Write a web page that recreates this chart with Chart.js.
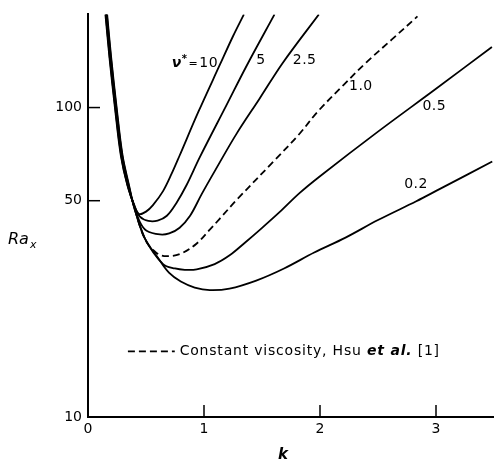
<!DOCTYPE html>
<html>
<head>
<meta charset="utf-8">
<script src="https://cdn.jsdelivr.net/npm/chart.js@4.4.1/dist/chart.umd.min.js"></script>
<style>
    html, body { margin: 0; padding: 0; background: #fff; }
    #wrap { width: 494px; height: 463px; }
</style>
</head>
<body>
<div id="wrap"><canvas id="chart" width="494" height="463"></canvas></div>
<script>
// wave number k and critical Rayleigh number Ra_x
const kNu10 = [0.150, 0.185, 0.232, 0.283, 0.340, 0.40, 0.44, 0.50, 0.56, 0.647, 0.72, 0.79, 0.95, 1.135, 1.25, 1.344];
const raNu10 = [200, 145, 100, 70, 56, 48.3, 45.3, 46.1, 48.4, 53.7, 61, 70, 96.6, 137, 170, 200];

const kNu5 = [0.153, 0.188, 0.235, 0.286, 0.342, 0.40, 0.45, 0.52, 0.60, 0.68, 0.76, 0.85, 0.963, 1.195, 1.37, 1.608];
const raNu5 = [200, 145, 100, 70, 56, 48, 44.3, 43, 43.1, 44.7, 49, 56.2, 69, 102, 137, 200];

const kNu25 = [0.156, 0.191, 0.238, 0.289, 0.345, 0.40, 0.45, 0.505, 0.62, 0.70, 0.79, 0.88, 0.98, 1.10, 1.28, 1.48, 1.68, 1.99];
const raNu25 = [200, 145, 100, 70, 56, 47.8, 42.5, 40, 38.9, 39.2, 40.9, 44.7, 52.5, 63, 82.2, 107, 139.6, 200];

const kNu1 = [0.159, 0.194, 0.241, 0.292, 0.348, 0.40, 0.49, 0.59, 0.676, 0.80, 0.935, 1.05, 1.135, 1.29, 1.6, 1.82, 1.98, 2.2, 2.4, 2.62, 2.84];
const raNu1 = [200, 145, 100, 70, 56, 47.6, 37.6, 33.9, 33.1, 33.7, 36.3, 40.3, 43.7, 50.7, 67, 82, 97, 118, 140, 166, 197];

const kNu05 = [0.162, 0.197, 0.244, 0.295, 0.351, 0.40, 0.49, 0.647, 0.75, 0.834, 0.937, 1.092, 1.221, 1.35, 1.496, 1.651, 1.823, 2.0, 2.5, 3.0, 3.482];
const raNu05 = [200, 145, 100, 70, 56, 47.4, 37.8, 31.2, 30.2, 29.9, 30, 31.2, 33.3, 36.5, 40.7, 45.9, 52.9, 60, 83.6, 115, 157];

const kNu02 = [0.165, 0.200, 0.247, 0.298, 0.354, 0.40, 0.49, 0.60, 0.70, 0.80, 0.92, 1.05, 1.22, 1.45, 1.69, 1.95, 2.22, 2.5, 2.83, 3.03, 3.485];
const raNu02 = [200, 145, 100, 70, 56, 47.2, 37.8, 32.8, 29.2, 27.4, 26.2, 25.7, 26.0, 27.6, 30.2, 34, 38, 43.3, 49.8, 54.5, 66.9];

const xTicks = [0, 1, 2, 3];
const yTicks = [10, 50, 100];

// curve labels, placed in data units
const curveLabels = [
    { text: "5", k: 1.45, ra: 142 },
    { text: "2.5", k: 1.765, ra: 142 },
    { text: "1.0", k: 2.25, ra: 116.7 },
    { text: "0.5", k: 2.883, ra: 100.7 },
    { text: "0.2", k: 2.726, ra: 56.6 }
];

const FONT = "'DejaVu Sans', sans-serif";

const toPoints = (ks, ras) => {
    const points = [];
    for (let i = 0; i < ks.length; i++) {
        points.push({ x: ks[i], y: ras[i] });
    }
    return points;
};

const makeSet = (label, ks, ras, dashed) => {
    return {
        label: label,
        data: toPoints(ks, ras),
        borderColor: "#000",
        borderWidth: 1.8,
        borderDash: dashed ? [7, 4] : [],
        pointRadius: 0,
        showLine: true,
        fill: false,
        tension: 0.35
    };
};

const extrasPlugin = {
    id: "extras",
    afterDatasetsDraw(chart) {
        const ctx = chart.ctx;
        const xs = chart.scales.x;
        const ys = chart.scales.y;
        const area = chart.chartArea;

        ctx.save();
        ctx.strokeStyle = "#000";
        ctx.fillStyle = "#000";
        ctx.lineWidth = 1.5;

        // inner tick marks
        for (let v of [50, 100]) {
            const y = ys.getPixelForValue(v);
            ctx.beginPath();
            ctx.moveTo(area.left, y);
            ctx.lineTo(area.left + 12, y);
            ctx.stroke();
        }
        for (let v of [1, 2, 3]) {
            const x = xs.getPixelForValue(v);
            ctx.beginPath();
            ctx.moveTo(x, area.bottom);
            ctx.lineTo(x, area.bottom - 12);
            ctx.stroke();
        }

        // curve labels
        ctx.textBaseline = "middle";
        ctx.textAlign = "left";
        ctx.letterSpacing = "0.5px";
        ctx.font = "14px " + FONT;
        for (let lab of curveLabels) {
            ctx.fillText(lab.text, xs.getPixelForValue(lab.k), ys.getPixelForValue(lab.ra));
        }

        // nu* = 10
        let px = xs.getPixelForValue(0.722);
        const py = ys.getPixelForValue(138.6);
        ctx.font = "italic bold 14px " + FONT;
        ctx.fillText("ν", px, py);
        px += ctx.measureText("ν").width;
        ctx.font = "bold 10px " + FONT;
        ctx.fillText("*", px, py - 4);
        px += ctx.measureText("*").width + 1;
        ctx.font = "11px " + FONT;
        ctx.fillText("=", px, py);
        px += ctx.measureText("=").width + 1;
        ctx.font = "14px " + FONT;
        ctx.fillText("10", px, py);

        // legend for the dashed curve
        const ly = ys.getPixelForValue(16.3);
        ctx.save();
        ctx.setLineDash([7, 4]);
        ctx.lineWidth = 1.8;
        ctx.beginPath();
        ctx.moveTo(xs.getPixelForValue(0.344), ly);
        ctx.lineTo(xs.getPixelForValue(0.748), ly);
        ctx.stroke();
        ctx.restore();

        ctx.letterSpacing = "0.8px";
        let tx = xs.getPixelForValue(0.79);
        ctx.font = "14px " + FONT;
        ctx.fillText("Constant viscosity, Hsu ", tx, ly);
        tx += ctx.measureText("Constant viscosity, Hsu ").width;
        ctx.font = "italic bold 14px " + FONT;
        ctx.fillText("et al.", tx, ly);
        tx += ctx.measureText("et al.").width;
        ctx.font = "14px " + FONT;
        ctx.fillText(" [1]", tx, ly);
        ctx.letterSpacing = "0px";

        // axis titles
        ctx.font = "italic 16px " + FONT;
        ctx.fillText("Ra", 8, 240);
        const raW = ctx.measureText("Ra").width;
        ctx.font = "italic 11px " + FONT;
        ctx.fillText("x", 8 + raW + 1, 245);

        ctx.font = "italic bold 15px " + FONT;
        ctx.textAlign = "center";
        ctx.fillText("k", xs.getPixelForValue(1.68), 455);

        ctx.restore();
    }
};

const tickFont = { family: FONT, size: 14 };

new Chart(document.querySelector("#chart"), {
    type: "scatter",
    data: {
        datasets: [
            makeSet("10", kNu10, raNu10, false),
            makeSet("5", kNu5, raNu5, false),
            makeSet("2.5", kNu25, raNu25, false),
            makeSet("1.0", kNu1, raNu1, true),
            makeSet("0.5", kNu05, raNu05, false),
            makeSet("0.2", kNu02, raNu02, false)
        ]
    },
    options: {
        responsive: false,
        animation: false,
        devicePixelRatio: 1,
        layout: { padding: { top: 12, right: 0, left: 0, bottom: 0 } },
        plugins: {
            legend: { display: false },
            tooltip: { enabled: false }
        },
        scales: {
            x: {
                type: "linear",
                min: 0,
                max: 3.5,
                afterBuildTicks: (scale) => {
                    scale.ticks = xTicks.map((v) => ({ value: v }));
                },
                afterFit: (scale) => {
                    scale.height = 46;
                },
                ticks: {
                    color: "#000",
                    font: tickFont,
                    padding: 4,
                    maxRotation: 0,
                    autoSkip: false,
                    callback: (v) => String(v)
                },
                grid: { display: false, drawTicks: false },
                border: { display: true, color: "#000", width: 2 }
            },
            y: {
                type: "logarithmic",
                min: 10,
                max: 200,
                afterBuildTicks: (scale) => {
                    scale.ticks = yTicks.map((v) => ({ value: v }));
                },
                afterFit: (scale) => {
                    scale.width = 88;
                },
                ticks: {
                    color: "#000",
                    font: tickFont,
                    padding: 6,
                    autoSkip: false,
                    callback: (v) => String(v)
                },
                grid: { display: false, drawTicks: false },
                border: { display: true, color: "#000", width: 2 }
            }
        }
    },
    plugins: [extrasPlugin]
});
</script>
</body>
</html>
